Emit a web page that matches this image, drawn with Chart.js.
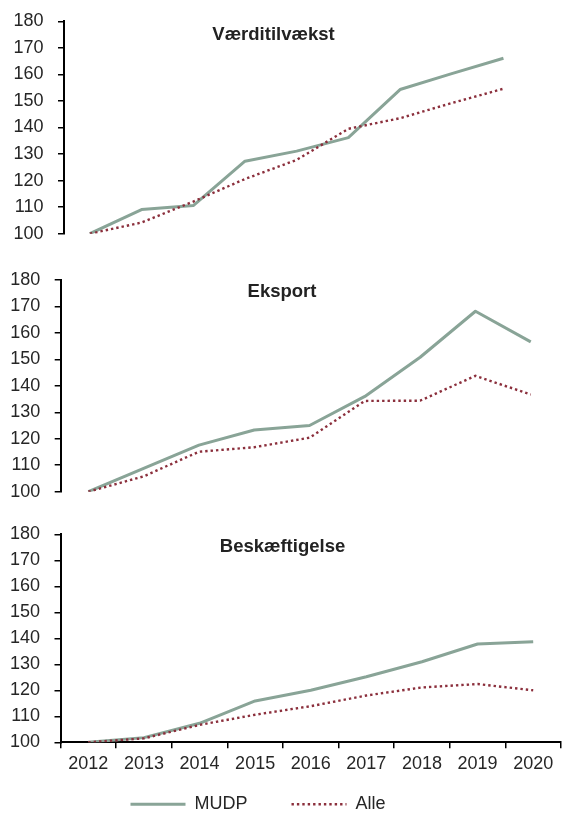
<!DOCTYPE html>
<html lang="da">
<head>
<meta charset="utf-8">
<title>MUDP og alle virksomheder, indeks 2012 = 100</title>
<script src="https://cdn.jsdelivr.net/npm/chart.js@4.4.1/dist/chart.umd.min.js"></script>
<style>
  html, body { margin: 0; padding: 0; background: #fff; overflow: hidden; }
  body { width: 562px; height: 816px; position: relative; }
  .panel { position: absolute; }
  /* chart.js keeps ~25px above/below the y axis for its labels, so the panels overlap a little */
  #p1 { left: 0; top: -4px; width: 547px; height: 263px; }
  #p2 { left: 0; top: 250px; width: 562px; height: 267px; }
  #p3 { left: -45px; top: 509px; width: 607px; height: 307px; }
</style>
</head>
<body>
<div class="panel" id="p1"><canvas id="chart-vaerdi"></canvas></div>
<div class="panel" id="p2"><canvas id="chart-eksport"></canvas></div>
<div class="panel" id="p3"><canvas id="chart-besk"></canvas></div>

<script>
// data, indeks 2012 = 100
const years = ['2012', '2013', '2014', '2015', '2016', '2017', '2018', '2019', '2020'];
const yTicks = [100, 110, 120, 130, 140, 150, 160, 170, 180];

const vaerdiMudp = [100, 109.1, 110.6, 127.3, 131.1, 136.2, 154.3, 160.3, 166.1];
const vaerdiAlle = [100, 104.2, 112.1, 120.6, 127.8, 139.5, 143.5, 149.2, 154.6];

const eksportMudp = [100, 108.8, 117.6, 123.3, 125.0, 136.0, 150.8, 168.2, 156.6];
const eksportAlle = [100, 105.8, 115.1, 116.8, 120.4, 134.3, 134.4, 143.8, 136.7];

const beskMudp = [100, 101.8, 107.3, 115.9, 120.0, 125.2, 131.0, 137.8, 138.7];
const beskAlle = [100, 101.5, 106.7, 110.6, 113.9, 118.0, 121.1, 122.4, 120.0];

const FONT = "'Liberation Sans', Arial, sans-serif";
const TEXT = '#262626';
const MUDP_COLOR = '#89a497';
const ALLE_COLOR = '#8b2f3c';

// panel title drawn inside the plot area
const panelTitle = {
  id: 'panelTitle',
  afterDraw(chart, args, opts) {
    const { ctx, chartArea } = chart;
    ctx.save();
    ctx.font = `bold 18.5px ${FONT}`;
    ctx.fillStyle = '#222';
    ctx.textAlign = 'center';
    ctx.textBaseline = 'alphabetic';
    ctx.fillText(opts.text, opts.x, chartArea.top + opts.dy);
    ctx.restore();
  }
};

// x axis is kept short so the legend sits close under it;
// widen its box again after layout so the year labels are not clipped
const xLabelRoom = {
  id: 'xLabelRoom',
  afterLayout(chart) {
    const x = chart.scales.x;
    if (x && x.options.display) {
      x.bottom = x.top + 36;
      x.height = 36;
    }
  }
};

// legend lines take width / dash from the dataset line, not from the point style
function lineLegendLabels(chart) {
  return Chart.defaults.plugins.legend.labels.generateLabels(chart).map(item => {
    const ds = chart.data.datasets[item.datasetIndex];
    return {
      ...item,
      strokeStyle: ds.borderColor,
      lineWidth: ds.borderWidth,
      lineDash: ds.borderDash || [],
      lineCap: ds.borderCapStyle || 'butt'
    };
  });
}

function makePanel(id, mudp, alle, cfg) {
  const el = document.getElementById(id);
  return new Chart(el, {
    type: 'line',
    data: {
      labels: years,
      datasets: [{
        label: 'MUDP',
        data: mudp,
        borderColor: MUDP_COLOR,
        backgroundColor: MUDP_COLOR,
        borderWidth: 3,
        borderJoinStyle: 'round',
        pointRadius: 0,
        tension: 0,
        order: 1
      }, {
        label: 'Alle',
        data: alle,
        borderColor: ALLE_COLOR,
        backgroundColor: ALLE_COLOR,
        borderWidth: 2.4,
        borderDash: [2.4, 3],
        borderCapStyle: 'butt',
        pointRadius: 0,
        tension: 0,
        order: 0
      }]
    },
    options: {
      responsive: true,
      maintainAspectRatio: false,
      animation: false,
      events: [],
      layout: { padding: cfg.padding },
      plugins: {
        tooltip: { enabled: false },
        panelTitle: { text: cfg.title, x: cfg.titleX, dy: cfg.titleDy },
        legend: cfg.legend ? {
          display: true,
          position: 'bottom',
          maxHeight: 64.7,
          labels: {
            font: { family: FONT, size: 18 },
            color: TEXT,
            usePointStyle: true,
            pointStyle: 'line',
            pointStyleWidth: 55,
            padding: 44,
            generateLabels: lineLegendLabels,
            sort: (a, b) => a.datasetIndex - b.datasetIndex
          }
        } : { display: false }
      },
      scales: {
        x: {
          display: cfg.showX,
          offset: true,
          afterFit: s => { if (cfg.showX) s.height = 9; },
          grid: {
            offset: true,
            drawOnChartArea: false,
            drawTicks: true,
            tickLength: 6,
            color: '#000',
            lineWidth: 1.5
          },
          border: { display: true, color: '#000', width: 2 },
          ticks: {
            font: { family: FONT, size: 18 },
            color: TEXT,
            padding: 5,
            maxRotation: 0,
            autoSkip: false
          }
        },
        y: {
          min: yTicks[0],
          max: yTicks[yTicks.length - 1],
          afterFit: s => { s.width = cfg.axisLeft; },
          afterBuildTicks: s => { s.ticks = yTicks.map(v => ({ value: v })); },
          grid: {
            drawOnChartArea: false,
            drawTicks: true,
            tickLength: 6,
            color: '#000',
            lineWidth: 1.5
          },
          border: { display: true, color: '#000', width: 2 },
          ticks: {
            font: { family: FONT, size: 18 },
            color: TEXT,
            padding: 14.5
          }
        }
      }
    },
    plugins: [panelTitle, xLabelRoom]
  });
}

makePanel('chart-vaerdi', vaerdiMudp, vaerdiAlle, {
  title: 'Værditilvækst', titleX: 273.5, titleDy: 18.7,
  axisLeft: 64, showX: false, legend: false,
  padding: { top: 0, right: 17.7, bottom: 0, left: 0 }
});

makePanel('chart-eksport', eksportMudp, eksportAlle, {
  title: 'Eksport', titleX: 282, titleDy: 17.3,
  axisLeft: 60.7, showX: false, legend: false,
  padding: { top: 30, right: 3.6, bottom: 0, left: 0 }
});

makePanel('chart-besk', beskMudp, beskAlle, {
  title: 'Beskæftigelse', titleX: 327.5, titleDy: 18,
  axisLeft: 105.5, showX: true, legend: true,
  padding: { top: 0, right: 1, bottom: 0, left: 0 }
});
</script>
</body>
</html>
